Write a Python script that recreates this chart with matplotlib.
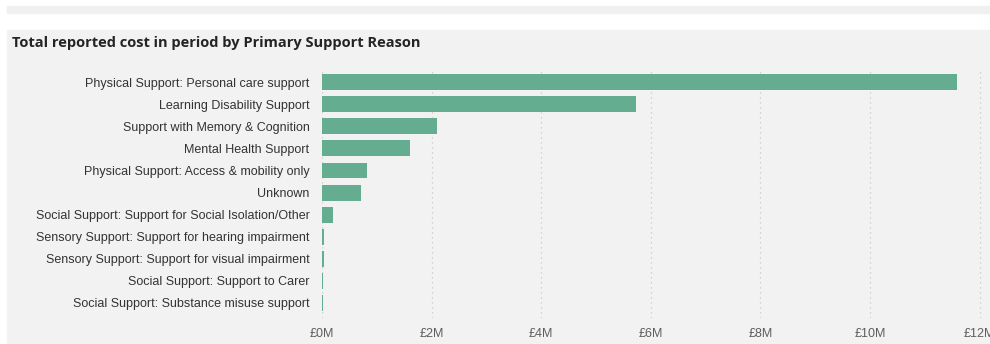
import matplotlib.pyplot as plt
from matplotlib.patches import Rectangle
from matplotlib.ticker import FuncFormatter

# categorias y valores (millones de libras)
reasons = [
    "Physical Support: Personal care support",
    "Learning Disability Support",
    "Support with Memory & Cognition",
    "Mental Health Support",
    "Physical Support: Access & mobility only",
    "Unknown",
    "Social Support: Support for Social Isolation/Other",
    "Sensory Support: Support for hearing impairment",
    "Sensory Support: Support for visual impairment",
    "Social Support: Support to Carer",
    "Social Support: Substance misuse support",
]
cost_m = [11.59, 5.73, 2.1, 1.6, 0.82, 0.71, 0.2, 0.03, 0.03, 0.02, 0.02]
ticks_m = [0, 2, 4, 6, 8, 10, 12]

bg = "#f2f2f2"
bar_color = "#65ad91"

fig = plt.figure(figsize=(9.9, 3.44), dpi=100)
fig.patch.set_facecolor("white")

# fondo del panel y franja superior
fig.patches.append(Rectangle((7 / 990, 0), 983 / 990, 1 - 30 / 344,
                             transform=fig.transFigure, color=bg, zorder=-10))
fig.patches.append(Rectangle((7 / 990, 1 - 13 / 344), 983 / 990, 7 / 344,
                             transform=fig.transFigure, color="#f0f0f0", zorder=-10))

fig.text(12 / 990, 1 - 43 / 344, "Total reported cost in period by Primary Support Reason",
         fontsize=10.5, fontweight="bold", color="#252423", va="center",
         family=["Open Sans", "DejaVu Sans"])

ax = fig.add_axes([322 / 990, 1 - 318 / 344, 663 / 990, 250 / 344])
ax.set_zorder(5)
ax.patch.set_alpha(0)

y = list(range(len(reasons)))
ax.barh(y, cost_m, height=0.72, color=bar_color, zorder=2)
ax.set_yticks(y)
ax.set_yticklabels(reasons, fontsize=9, color="#333333", family="Liberation Sans")
ax.set_ylim(10.68, -0.64)
ax.set_xlim(0, 12.1)
ax.set_xticks(ticks_m)
ax.xaxis.set_major_formatter(FuncFormatter(lambda v, p: "£%dM" % v))
for lab in ax.get_xticklabels():
    lab.set_family("Liberation Sans")
ax.tick_params(axis="x", labelsize=9, colors="#605e5c", length=0, pad=7)
ax.tick_params(axis="y", length=0, pad=9)
ax.grid(axis="x", linestyle=(0, (1, 3)), color="#c8c8c8", linewidth=0.9, zorder=1)
for s in ax.spines.values():
    s.set_visible(False)

plt.savefig("out.png", dpi=100)
plt.close()
